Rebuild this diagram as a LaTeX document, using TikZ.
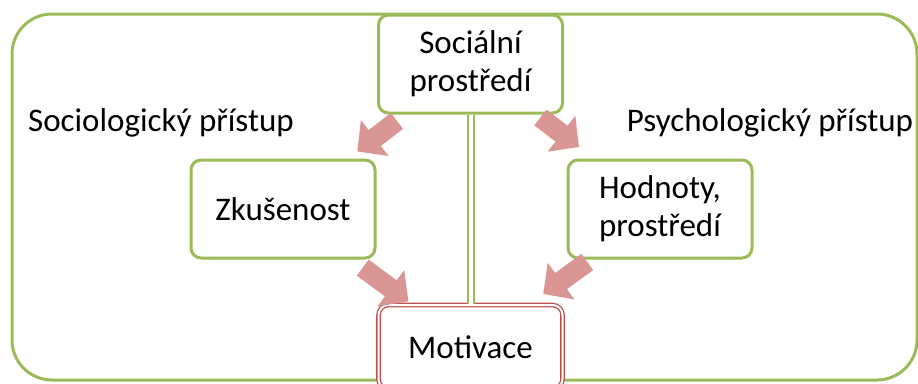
\documentclass[tikz,border=0pt]{standalone}
\usepackage{fontspec}
\setmainfont{Carlito}
\usetikzlibrary{arrows.meta}
\definecolor{boxgreen}{HTML}{9BBB59}
\definecolor{boxred}{HTML}{C0504D}
\definecolor{flowpink}{HTML}{D99694}

\begin{document}
\begin{tikzpicture}[%
	    x=1pt, y=-1pt,
	    font=\fontsize{33}{38}\selectfont,
	    box/.style={draw=boxgreen, line width=3pt, rounded corners=10pt, fill=white,
	                align=center, minimum width=184pt, minimum height=98pt, inner sep=0pt},
	    goal/.style={box, draw=boxred, double=white, double distance=2pt, line width=1.3pt,
	                 minimum height=84pt},
	    flow/.style={draw=flowpink, line width=20pt, -{Triangle[length=22pt,width=44pt]}},
	    link/.style={draw=boxgreen, double=white, line width=2pt, double distance=4pt},
	    frame/.style={draw=boxgreen, line width=3pt, rounded corners=40pt}
	  ]

	  \clip (0,0) rectangle (918,383);
	  \draw[frame] (12,14) rectangle (917,380);

	  % nodes
	  \node (socio)  at (161,123) {Sociologický přístup};
	  \node (psycho) at (770,123) {Psychologický přístup};
	  \node[box]  (soc) at (470.5,64)   {Sociální\\prostředí};
	  \node[box]  (zk)  at (283,209)    {Zkušenost};
	  \node[box]  (hod) at (660,209)    {Hodnoty,\\prostředí};
	  \node[goal] (mot) at (470.5,347)  {Motivace};

	  \path[link] (soc.south) -- (mot.north);

	  % arrows measured from the centres
	  \path
	      (soc.center) edge [flow, shorten <=93pt, shorten >=94pt]  (zk.center)
	                   edge [flow, shorten <=88pt, shorten >=102pt] (hod.center)
	      (zk.center)  edge [flow, shorten <=99pt, shorten >=77pt]  (mot.center)
	      (hod.center) edge [flow, shorten <=90pt, shorten >=90pt]  (mot.center);

      \end{tikzpicture}
\end{document}
